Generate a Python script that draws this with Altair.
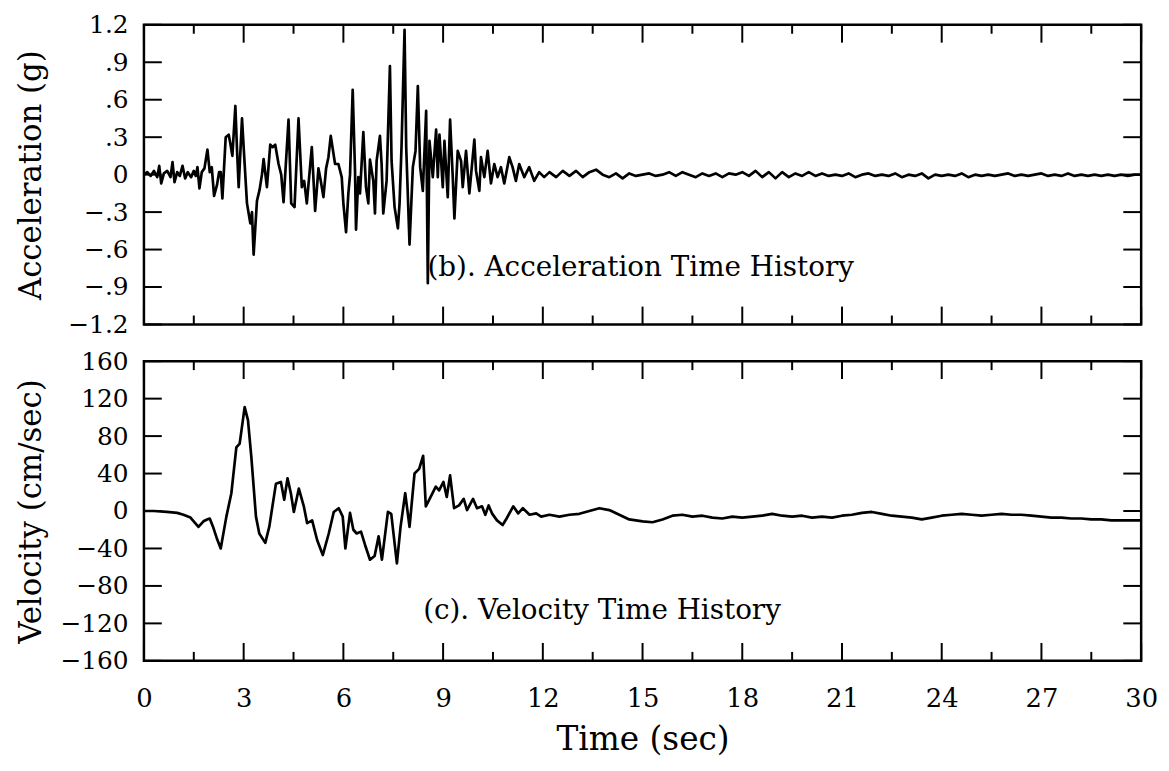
import altair as alt
import pandas as pd

# ---------------- data ----------------
acc_t = [0.0, 0.1, 0.2, 0.3, 0.4, 0.46, 0.52, 0.6, 0.7, 0.8, 0.86, 0.92, 1.0, 1.08, 1.16, 1.24,
         1.32, 1.42, 1.5, 1.56, 1.61, 1.67, 1.74, 1.82, 1.91, 1.98, 2.04, 2.11, 2.2, 2.26, 2.31,
         2.36, 2.46, 2.55, 2.6, 2.66, 2.75, 2.8, 2.85, 2.95, 3.0, 3.1, 3.2, 3.25, 3.3, 3.4, 3.48,
         3.55, 3.6, 3.7, 3.8, 3.87, 3.95, 4.05, 4.13, 4.2, 4.35, 4.43, 4.53, 4.65, 4.75, 4.82,
         4.9, 5.05, 5.15, 5.25, 5.32, 5.4, 5.48, 5.55, 5.62, 5.75, 5.85, 5.95, 6.0, 6.08, 6.15,
         6.2, 6.28, 6.35, 6.38, 6.45, 6.5, 6.6, 6.68, 6.75, 6.8, 6.9, 6.95, 7.0, 7.1, 7.15, 7.2,
         7.3, 7.4, 7.45, 7.54, 7.64, 7.69, 7.75, 7.84, 7.89, 7.99, 8.09, 8.17, 8.24, 8.31, 8.39,
         8.49, 8.54, 8.59, 8.69, 8.79, 8.84, 8.89, 8.99, 9.04, 9.14, 9.21, 9.29, 9.34, 9.44, 9.54,
         9.59, 9.69, 9.79, 9.94, 9.99, 10.09, 10.14, 10.24, 10.34, 10.44, 10.54, 10.64, 10.74,
         10.84, 10.99, 11.09, 11.19, 11.29, 11.44, 11.59, 11.74, 11.89, 12.04,
         12.2, 12.4, 12.6, 12.8, 13.0, 13.2, 13.4, 13.6, 13.8, 14.0, 14.2, 14.4, 14.6, 14.8,
         15.0, 15.2, 15.4, 15.6, 15.8, 16.0, 16.2, 16.4, 16.6, 16.8, 17.0, 17.2, 17.4, 17.6,
         17.8, 18.0, 18.2, 18.4, 18.6, 18.8, 19.0, 19.2, 19.4, 19.6, 19.8, 20.0, 20.2, 20.4,
         20.6, 20.8, 21.0, 21.2, 21.4, 21.6, 21.8, 22.0, 22.2, 22.4, 22.6, 22.8, 23.0, 23.2,
         23.4, 23.6, 23.8, 24.0, 24.2, 24.4, 24.6, 24.8, 25.0, 25.2, 25.4, 25.6, 25.8, 26.0,
         26.2, 26.4, 26.6, 26.8, 27.0, 27.2, 27.4, 27.6, 27.8, 28.0, 28.2, 28.4, 28.6, 28.8,
         29.0, 29.2, 29.4, 29.6, 29.8, 30.0]
acc_g = [0.0, 0.02, -0.01, 0.03, -0.02, 0.07, -0.07, 0.01, 0.03, -0.02, 0.10, -0.06, 0.02, -0.01,
         0.07, -0.03, 0.02, -0.02, 0.03, -0.01, 0.06, -0.11, 0.02, 0.05, 0.20, 0.02, 0.06, -0.17,
         -0.08, 0.02, 0.02, -0.19, 0.30, 0.32, 0.25, 0.15, 0.55, 0.20, -0.10, 0.45, 0.22, -0.23,
         -0.39, -0.30, -0.64, -0.21, -0.12, 0.0, 0.125, -0.10, 0.24, 0.22, 0.24, 0.085, 0.0,
         -0.22, 0.44, -0.23, -0.26, 0.45, -0.10, -0.05, -0.23, 0.22, -0.29, 0.05, -0.05, -0.18,
         0.05, 0.14, 0.31, 0.085, 0.085, -0.02, -0.23, -0.46, -0.15, 0.0, 0.68, 0.03, -0.44,
         -0.02, -0.15, 0.34, -0.10, -0.23, 0.12, -0.05, -0.31, 0.11, 0.31, 0.085, -0.31, -0.05,
         0.87, 0.11, -0.26, -0.43, -0.23, 0.23, 1.16, 0.22, -0.56, 0.06, 0.19, 0.71, 0.06, -0.13,
         0.51, -0.87, 0.27, -0.02, 0.36, -0.02, 0.32, -0.10, 0.27, -0.18, 0.44, -0.02, -0.35,
         0.19, 0.11, -0.10, 0.19, -0.15, 0.28, 0.03, -0.13, 0.14, -0.02, 0.19, -0.07, 0.085,
         -0.02, 0.06, -0.07, 0.14, 0.06, -0.05, 0.085, -0.02, 0.06, -0.05, 0.02, -0.02,
         0.02, -0.02, 0.03, -0.01, 0.03, -0.02, 0.02, 0.04, 0.0, -0.02, 0.01, -0.03, 0.01, -0.01,
         0.0, 0.01, -0.01, 0.0, 0.02, -0.01, 0.02, 0.0, -0.02, 0.01, -0.01, 0.01, -0.02, 0.01,
         0.0, 0.02, -0.01, 0.03, -0.02, 0.02, -0.03, 0.02, -0.02, 0.01, -0.01, 0.02, -0.01, 0.01,
         -0.01, 0.0, -0.01, 0.01, -0.02, 0.0, 0.01, -0.01, 0.0, -0.01, 0.01, -0.02, 0.0, -0.01,
         0.01, -0.03, 0.0, -0.01, 0.0, -0.01, 0.01, -0.02, 0.0, -0.01, 0.0, -0.01, 0.0, 0.01,
         -0.01, 0.0, -0.01, 0.0, 0.01, -0.01, 0.0, -0.01, 0.01, -0.01, 0.0, -0.01, 0.0, -0.01,
         0.0, -0.01, 0.0, -0.01, 0.0, 0.0]

vel_t = [0.0, 0.3, 0.69, 1.0, 1.19, 1.4, 1.64, 1.79, 1.9, 1.98, 2.08, 2.2, 2.31, 2.4, 2.48, 2.63,
         2.78, 2.88, 3.03, 3.13, 3.23, 3.37, 3.47, 3.65, 3.77, 3.97, 4.12, 4.22, 4.32, 4.42,
         4.51, 4.66, 4.81, 4.91, 5.06, 5.21, 5.38, 5.56, 5.71, 5.86, 5.98, 6.06, 6.2, 6.3, 6.4,
         6.53, 6.65, 6.8, 6.94, 7.06, 7.16, 7.34, 7.44, 7.61, 7.72, 7.86, 7.99, 8.14, 8.28, 8.4,
         8.48, 8.58, 8.78, 8.88, 9.01, 9.11, 9.21, 9.33, 9.48, 9.62, 9.72, 9.9, 10.02, 10.17,
         10.27, 10.37, 10.47, 10.62, 10.79, 10.91, 11.11, 11.26, 11.4, 11.6, 11.8, 11.95, 12.2,
         12.5, 12.8, 13.1, 13.4, 13.7, 14.0, 14.3, 14.6, 15.0, 15.3, 15.6, 15.9, 16.2, 16.5,
         16.8, 17.1, 17.4, 17.7, 18.0, 18.3, 18.6, 18.9, 19.2, 19.5, 19.8, 20.1, 20.4, 20.7,
         21.0, 21.3, 21.6, 21.9, 22.2, 22.5, 22.8, 23.1, 23.4, 23.7, 24.0, 24.3, 24.6, 24.9,
         25.2, 25.5, 25.8, 26.1, 26.4, 26.7, 27.0, 27.3, 27.6, 27.9, 28.2, 28.5, 28.8, 29.1,
         29.4, 29.7, 30.0]
vel_v = [0, 0, -1, -2, -4, -7, -17, -11, -9, -8, -17, -30, -40, -22, -6, 19, 68, 72, 111, 97, 58,
         -6, -24, -34, -17, 29, 31, 12, 35, 19, -1, 24, 5, -13, -10, -31, -47, -24, -1, 3, -6,
         -40, -2, -20, -24, -22, -36, -52, -48, -27, -52, -1, -3, -56, -17, 19, -17, 40, 45, 59,
         5, 12, 26, 22, 31, 15, 38, 3, 6, 13, 1, 13, 3, 5, -4, 6, -2.5, -10, -15, -8, 5, -2.5,
         3, -4, -2.5, -6, -4, -6, -4, -3, 0, 3, 1, -4, -9, -11, -12, -9, -5, -4, -6, -5, -7, -8,
         -6, -7, -6, -5, -3, -5, -6, -5, -7, -6, -7, -5, -4, -2, -1, -3, -5, -6, -7, -9, -7, -5,
         -4, -3, -4, -5, -4, -3, -4, -4, -5, -6, -7, -7, -8, -8, -9, -9, -10, -10, -10, -10]

x_major = [0, 3, 6, 9, 12, 15, 18, 21, 24, 27, 30]
x_minor = [1.5, 4.5, 7.5, 10.5, 13.5, 16.5, 19.5, 22.5, 25.5, 28.5]
acc_ticks = [-1.2, -0.9, -0.6, -0.3, 0.0, 0.3, 0.6, 0.9, 1.2]
vel_ticks = [-160, -120, -80, -40, 0, 40, 80, 120, 160]

acc_note = ["(b). Acceleration Time History", 8.53, -0.75]
vel_note = ["(c). Velocity Time History", 8.4, -107]

# ---------------- chart ----------------
W, H = 1005, 302
FONT = "DejaVu Serif"
MAJ, MIN = 18, 9

acc_df = pd.DataFrame({"t": acc_t, "v": acc_g})
vel_df = pd.DataFrame({"t": vel_t, "v": vel_v})
xmaj_df = pd.DataFrame({"t": x_major})
xmin_df = pd.DataFrame({"t": x_minor})

acc_label = ("datum.value == 0 ? '0' : (datum.value < 0 ? '\u2212' : '') + "
             "(abs(datum.value) < 1 ? substring(format(abs(datum.value), '.1f'), 1) "
             ": format(abs(datum.value), '.1f'))")


def panel(df, yticks, ydom, ytitle, note, bottom):
    xscale = alt.Scale(domain=[0, 30], nice=False, zero=False)
    yscale = alt.Scale(domain=ydom, nice=False, zero=False)
    if bottom:
        xaxis = alt.Axis(values=x_major, format="d", ticks=False, domain=False, grid=False,
                         labelFont=FONT, labelFontSize=26, labelColor="black",
                         labelPadding=25, labelFlush=False,
                         title="Time (sec)", titleFont=FONT, titleFontSize=33,
                         titleFontWeight="normal", titleColor="black", titlePadding=12)
        ylab = {"format": "d"}
    else:
        xaxis = None
        ylab = {"labelExpr": acc_label}
    yaxis = alt.Axis(values=yticks, ticks=False, domain=False, grid=False,
                     labelFont=FONT, labelFontSize=25, labelColor="black", labelPadding=16,
                     title=ytitle, titleFont=FONT, titleFontSize=31, titleFontWeight="normal",
                     titleColor="black", titleX=-97, titleY=H / 2, **ylab)
    X = lambda f="t": alt.X(f"{f}:Q", scale=xscale, axis=xaxis)
    Y = lambda f="v": alt.Y(f"{f}:Q", scale=yscale, axis=yaxis)

    ytick_df = pd.DataFrame({"v": yticks})
    line = alt.Chart(df).mark_line(color="black", strokeWidth=2.7, strokeJoin="round").encode(
        x=X(), y=Y())
    rules = [
        alt.Chart(xmaj_df).mark_rule(color="black", strokeWidth=2).encode(
            x=X(), y=alt.value(H), y2=alt.value(H - MAJ)),
        alt.Chart(xmin_df).mark_rule(color="black", strokeWidth=2).encode(
            x=X(), y=alt.value(H), y2=alt.value(H - MIN)),
        alt.Chart(xmaj_df).mark_rule(color="black", strokeWidth=2).encode(
            x=X(), y=alt.value(0), y2=alt.value(MAJ)),
        alt.Chart(xmin_df).mark_rule(color="black", strokeWidth=2).encode(
            x=X(), y=alt.value(0), y2=alt.value(MIN)),
        alt.Chart(ytick_df).mark_rule(color="black", strokeWidth=2).encode(
            y=Y(), x=alt.value(0), x2=alt.value(MAJ)),
        alt.Chart(ytick_df).mark_rule(color="black", strokeWidth=2).encode(
            y=Y(), x=alt.value(W), x2=alt.value(W - MAJ)),
    ]
    note_df = pd.DataFrame({"label": [note[0]], "t": [note[1]], "v": [note[2]]})
    text = alt.Chart(note_df).mark_text(align="left", baseline="middle", font=FONT,
                                        fontSize=28, color="black").encode(
        x=X(), y=Y(), text="label:N")
    return alt.layer(*rules, line, text).properties(width=W, height=H)


top = panel(acc_df, acc_ticks, [-1.2, 1.2], "Acceleration (g)", acc_note, False)
bot = panel(vel_df, vel_ticks, [-160, 160], "Velocity (cm/sec)", vel_note, True)

chart = alt.vconcat(top, bot, spacing=8).properties(
    padding={"left": 6, "top": 0, "right": 2, "bottom": 0},
    background="white",
).configure_view(stroke="black", strokeWidth=2.5)

chart.save("out.html", embed_options={"renderer": "svg", "actions": False})
